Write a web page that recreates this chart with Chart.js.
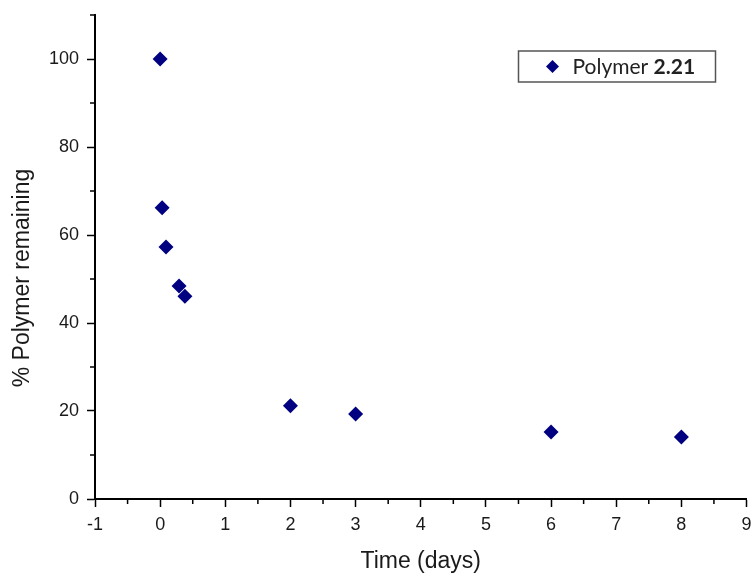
<!DOCTYPE html>
<html>
<head>
<meta charset="utf-8">
<script src="https://cdn.jsdelivr.net/npm/chart.js@4.4.0/dist/chart.umd.min.js"></script>
<style>
  html, body { margin: 0; padding: 0; background: #fff; }
  #wrap { width: 754px; height: 576px; position: relative; }
</style>
</head>
<body>
<div id="wrap"><canvas id="scatter" width="754" height="576"></canvas></div>
<script>
// data
var timeDays = [0, 0.03, 0.09, 0.29, 0.38, 2, 3, 6, 8];
var polymerRemaining = [100, 66.2, 57.3, 48.4, 46.1, 21.2, 19.3, 15.2, 14.1];
var seriesName = 'Polymer ';
var seriesNameBold = '2.21';
var xTicks = [-1, 0, 1, 2, 3, 4, 5, 6, 7, 8, 9];
var yTicks = [0, 20, 40, 60, 80, 100];
var xMinorTicks = [-0.5, 0.5, 1.5, 2.5, 3.5, 4.5, 5.5, 6.5, 7.5, 8.5];
var yMinorTicks = [10, 30, 50, 70, 90, 110];
var xTitle = 'Time (days)';
var yTitle = '% Polymer remaining';

var navy = '#000080';
var textColor = '#1a1a1a';
var arial = '"Liberation Sans", Arial, sans-serif';

// minor ticks, y title and custom legend (mixed bold text)
var extras = {
    id: 'extras',
    afterDraw: function(chart) {
        var ctx = chart.ctx;
        var xs = chart.scales.x, ys = chart.scales.y;
        var area = chart.chartArea;
        ctx.save();
        ctx.strokeStyle = '#000';
        ctx.lineWidth = 1.5;
        ctx.beginPath();
        xMinorTicks.forEach(function(v) {
            var px = xs.getPixelForValue(v);
            ctx.moveTo(px, area.bottom);
            ctx.lineTo(px, area.bottom + 5);
        });
        yMinorTicks.forEach(function(v) {
            var py = ys.getPixelForValue(v);
            ctx.moveTo(area.left, py);
            ctx.lineTo(area.left - 5, py);
        });
        ctx.stroke();

        // y axis title
        ctx.save();
        ctx.translate(23, 278);
        ctx.rotate(-Math.PI / 2);
        ctx.fillStyle = textColor;
        ctx.font = '23px ' + arial;
        ctx.textAlign = 'center';
        ctx.textBaseline = 'middle';
        ctx.fillText(yTitle, 0, 0);
        ctx.restore();

        // legend box
        var bx = area.right - 228, by = area.top + 36, bw = 197, bh = 31;
        ctx.strokeStyle = '#555';
        ctx.lineWidth = 1.5;
        ctx.strokeRect(bx, by, bw, bh);
        var cx = bx + 34, cy = by + bh / 2;
        ctx.fillStyle = navy;
        ctx.beginPath();
        ctx.moveTo(cx - 6.5, cy);
        ctx.lineTo(cx, cy - 6.5);
        ctx.lineTo(cx + 6.5, cy);
        ctx.lineTo(cx, cy + 6.5);
        ctx.closePath();
        ctx.fill();
        ctx.fillStyle = '#222';
        ctx.textBaseline = 'middle';
        ctx.font = '21px Lato, "Open Sans", sans-serif';
        var tx = bx + 54;
        ctx.fillText(seriesName, tx, cy + 1);
        tx += ctx.measureText(seriesName).width;
        ctx.font = 'bold 21px Lato, "Open Sans", sans-serif';
        ctx.fillText(seriesNameBold, tx, cy + 1);
        ctx.restore();
    }
};

var ctx = document.getElementById('scatter');
var chart = new Chart(ctx, {
    type: 'scatter',
    data: {
        datasets: [{
            label: seriesName + seriesNameBold,
            data: timeDays.map(function(t, i) { return { x: t, y: polymerRemaining[i] }; }),
            pointStyle: 'rectRot',
            pointRadius: 7.5,
            pointHoverRadius: 7.5,
            backgroundColor: navy,
            borderColor: navy,
            borderWidth: 0
        }]
    },
    options: {
        responsive: false,
        maintainAspectRatio: false,
        animation: false,
        devicePixelRatio: 1,
        layout: { padding: { top: 15, right: 7, left: 0, bottom: 0 } },
        plugins: {
            legend: { display: false },
            tooltip: { enabled: false }
        },
        scales: {
            x: {
                type: 'linear',
                min: -1,
                max: 9,
                afterBuildTicks: function(scale) {
                    scale.ticks = xTicks.map(function(v) { return { value: v }; });
                },
                border: { display: true, color: '#000', width: 2 },
                grid: { drawOnChartArea: false, drawTicks: true, tickLength: 8, tickColor: '#000', tickWidth: 1.5 },
                ticks: {
                    color: textColor,
                    padding: 7,
                    maxRotation: 0,
                    font: { family: arial, size: 18 }
                },
                title: {
                    display: true,
                    text: xTitle,
                    color: textColor,
                    padding: { top: 4, bottom: 1 },
                    font: { family: arial, size: 23 }
                },
                afterFit: function(scale) {
                    scale.height = 77;
                    scale.paddingLeft = 0;
                    scale.paddingRight = 0;
                }
            },
            y: {
                type: 'linear',
                min: 0,
                max: 110,
                afterBuildTicks: function(scale) {
                    scale.ticks = yTicks.map(function(v) { return { value: v }; });
                },
                border: { display: true, color: '#000', width: 2 },
                grid: { drawOnChartArea: false, drawTicks: true, tickLength: 8, tickColor: '#000', tickWidth: 1.5 },
                ticks: {
                    color: textColor,
                    padding: 8,
                    font: { family: arial, size: 18 }
                },
                title: { display: false },
                afterFit: function(scale) {
                    scale.width = 95;
                    scale.paddingTop = 0;
                    scale.paddingBottom = 0;
                }
            }
        }
    },
    plugins: [extras]
});
</script>
</body>
</html>
